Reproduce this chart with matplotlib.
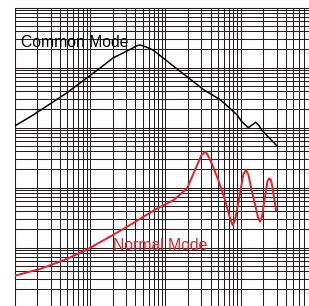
import matplotlib
matplotlib.use("Agg")
import matplotlib.pyplot as plt
from matplotlib.ticker import LogLocator, NullFormatter

# Frequency (MHz) and impedance (ohm)
cm_freq = [0.1, 0.175, 0.49, 0.904, 1.36, 2.02, 3.72, 4.08, 4.61, 5.37, 6.87,
           13.1, 32.7, 54.4, 90.4, 103.5, 126.5, 141.6, 158.7, 173, 190.6, 304]
cm_imp = [106, 161, 376, 668, 981, 1440, 2113, 2282, 2371, 2239, 1958,
          1031, 422, 287, 161, 125, 99.3, 110, 122, 110, 90.8, 49.2]

nm_freq = [0.1, 0.217, 0.491, 0.904, 2.04, 3.76, 7.3, 13.1, 19.6, 24.8, 30.3,
           34.4, 38.0, 41.3, 50.6, 62.1, 73.4, 78.5, 84.3, 93.1, 109, 118,
           127, 140, 170, 181, 192, 211, 228, 240, 253, 264, 295]
nm_imp = [0.339, 0.438, 0.643, 0.919, 1.63, 2.56, 4.27, 6.26, 9.8, 19.6, 34.8,
          39.5, 31.6, 25.3, 13.3, 6.19, 2.87, 2.37, 2.87, 5.45, 16.8, 19.6,
          16.2, 9.09, 3.22, 2.69, 3.22, 7.03, 12.8, 14.2, 13.3, 10.3, 4.22]

labels = ["Common Mode", "Normal Mode"]
label_pos = [(0.12, 2222), (2.04, 0.919)]

W, H = 309, 306
fig = plt.figure(figsize=(W / 100, H / 100), dpi=100)
left = 14.7 / W
top = 1 - 7.5 / H
ax = fig.add_axes([left, 0.0, 1.0 - left, top])
ax.set_xscale("log")
ax.set_yscale("log")
ax.set_xlim(0.1, 809)
ax.set_ylim(0.106, 1e4)

grid_color = "#231f20"
for axis in (ax.xaxis, ax.yaxis):
    axis.set_major_locator(LogLocator(base=10, numticks=20))
    axis.set_minor_locator(LogLocator(base=10, subs=range(2, 10), numticks=20))
    axis.set_minor_formatter(NullFormatter())
ax.grid(which="both", color=grid_color, linewidth=0.75)
ax.tick_params(which="both", length=0, labelleft=False, labelbottom=False)
for side in ("right", "bottom"):
    ax.spines[side].set_visible(False)
for side in ("left", "top"):
    ax.spines[side].set_color(grid_color)
    ax.spines[side].set_linewidth(0.75)

ax.plot(cm_freq, cm_imp, color="black", linewidth=1.1, zorder=3)
ax.plot(nm_freq, nm_imp, color="#ee1c24", linewidth=1.4, zorder=3)

ax.text(label_pos[0][0], label_pos[0][1], labels[0], color="black",
        family="Liberation Sans", fontsize=11.3, ha="left", va="baseline", zorder=4)
ax.text(label_pos[1][0], label_pos[1][1], labels[1], color="#ee1c24",
        family="Liberation Sans", fontsize=11.3, ha="left", va="baseline", zorder=4)

fig.savefig("out.png", dpi=100)
